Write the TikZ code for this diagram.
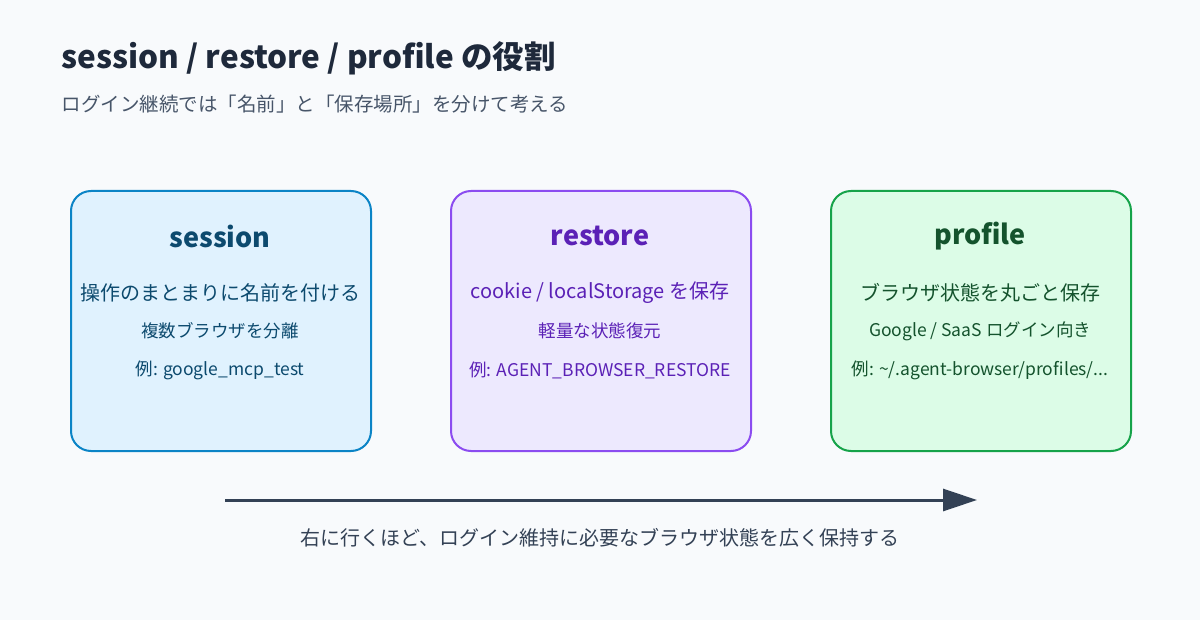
\documentclass[tikz,border=0pt]{standalone}
\usepackage{fontspec}
\setmainfont{Noto Sans CJK JP}
\usetikzlibrary{arrows.meta}
\definecolor{bg}{HTML}{F8FAFC}
\definecolor{ink}{HTML}{1E293B}
\definecolor{sub}{HTML}{475569}
\definecolor{sB}{HTML}{0B84C6}\definecolor{sF}{HTML}{E0F2FE}\definecolor{sT}{HTML}{0C4A6E}
\definecolor{rB}{HTML}{8B4CF0}\definecolor{rF}{HTML}{EDE9FE}\definecolor{rT}{HTML}{5B21B6}
\definecolor{pB}{HTML}{16A34A}\definecolor{pF}{HTML}{DCFCE7}\definecolor{pT}{HTML}{14532D}
\definecolor{arr}{HTML}{334155}
\tikzset{
 box/.style={draw=#1B,fill=#1F,line width=2pt,rounded corners=20pt,minimum width=300pt,minimum height=260pt,anchor=north west},
 ttl/.style={font=\fontsize{27}{30}\selectfont\bfseries},
 l1/.style={font=\fontsize{20}{24}\selectfont},
 l2/.style={font=\fontsize{17.5}{21}\selectfont},
}
\begin{document}
\begin{tikzpicture}[x=1pt,y=-1pt]
\fill[bg] (0,0) rectangle (1200,620);
\useasboundingbox (0,0) rectangle (1200,620);
\node[anchor=west,text=ink,font=\fontsize{31.5}{36}\selectfont\bfseries] (title) at (58,58) {session / restore / profile の役割};
\node[anchor=west,text=sub,font=\fontsize{19.5}{22}\selectfont] (subt) at (58,104) {ログイン継続では「名前」と「保存場所」を分けて考える};
\node[box=s] (bs) at (70,190) {};
\node[box=r] (br) at (450,190) {};
\node[box=p] (bp) at (830,190) {};
\node[ttl,text=sT] (st) at (220,236) {session};
\node[l1,text=sT] (s1) at (220,293) {操作のまとまりに名前を付ける};
\node[l2,text=sT] (s2) at (220,331) {複数ブラウザを分離};
\node[l2,text=sT] (s3) at (220,370) {例: google\_mcp\_test};
\node[ttl,text=rT] (rt) at (600,236) {restore};
\node[l1,text=rT] (r1) at (600,293) {cookie / localStorage を保存};
\node[l2,text=rT] (r2) at (600,331) {軽量な状態復元};
\node[l2,text=rT] (r3) at (600,370) {例: AGENT\_BROWSER\_RESTORE};
\node[ttl,text=pT] (pt) at (980,236) {profile};
\node[l1,text=pT] (p1) at (980,293) {ブラウザ状態を丸ごと保存};
\node[l2,text=pT] (p2) at (980,331) {Google / SaaS ログイン向き};
\node[l2,text=pT] (p3) at (980,370) {例: \textasciitilde/.agent-browser/profiles/...};
\coordinate (a0) at (225,500);
\coordinate (a1) at (977,500);
\draw[arr,line width=3pt,-{Triangle[length=34pt,width=22pt]}] (a0) -- (a1);
\node[text=arr,font=\fontsize{20}{24}\selectfont] (cap) at (600,538) {右に行くほど、ログイン維持に必要なブラウザ状態を広く保持する};
\end{tikzpicture}
\end{document}
